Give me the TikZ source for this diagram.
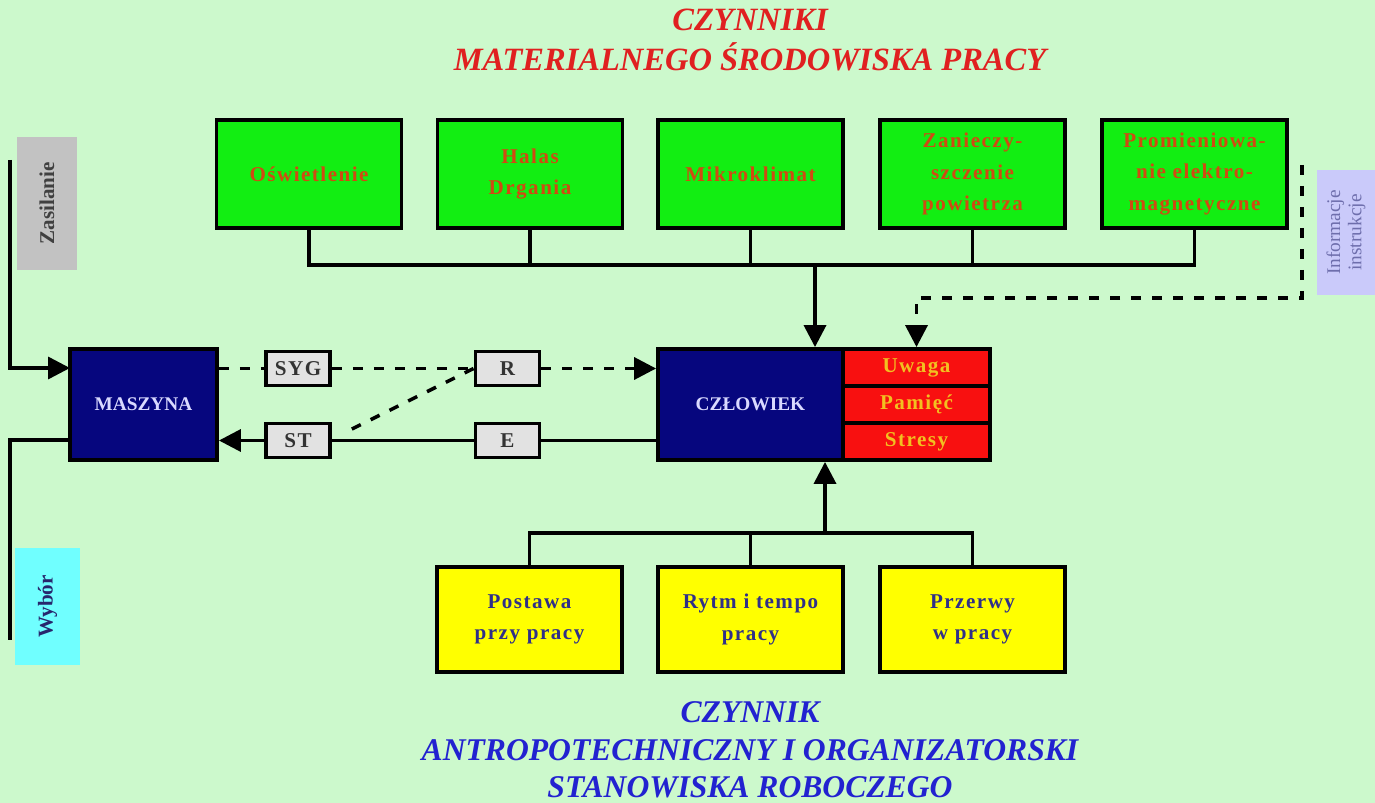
\documentclass[tikz,border=0pt]{standalone}
\usepackage{fontspec}
\setmainfont{Liberation Serif}
\newfontfamily\boxfont{Liberation Serif}[LetterSpace=7]
\usetikzlibrary{arrows.meta,calc}
\definecolor{bgmint}{HTML}{CCF9CC}
\definecolor{envgreen}{HTML}{12EE12}
\definecolor{envtext}{HTML}{D04A12}
\definecolor{orgyellow}{HTML}{FFFF00}
\definecolor{orgtext}{HTML}{303088}
\definecolor{coreblue}{HTML}{06067E}
\definecolor{corered}{HTML}{F81010}
\definecolor{coretext}{HTML}{F2C020}
\definecolor{sigfill}{HTML}{E2E2E2}
\definecolor{titlered}{HTML}{E02020}
\definecolor{titleblue}{HTML}{2222D0}
\definecolor{zasgrey}{HTML}{C2C2C2}
\definecolor{wybcyan}{HTML}{70FFFF}
\definecolor{inflav}{HTML}{CACAFA}
\tikzset{
  box/.style={draw=black, line width=2.2pt, align=center, inner sep=2pt,
    font=\boxfont\bfseries\fontsize{12}{18}\selectfont},
  envbox/.style={box, fill=envgreen, text=envtext, minimum width=3.7cm, minimum height=2.16cm},
  orgbox/.style={box, fill=orgyellow, text=orgtext, minimum width=3.7cm, minimum height=2.1cm},
  corebox/.style={box, fill=coreblue, text=white!85!blue, font=\bfseries\fontsize{11}{13}\selectfont},
  statebox/.style={box, fill=corered, text=coretext, minimum width=2.94cm, minimum height=0.74cm},
  sigbox/.style={box, fill=sigfill, text=black!80, minimum width=1.28cm, minimum height=0.68cm},
  sidetag/.style={rotate=90, align=center, inner sep=1pt},
  title/.style={align=center, font=\bfseries\itshape\fontsize{18.5}{22.5}\selectfont},
  wire/.style={line width=2pt},
  arr/.style={wire, -{Triangle[length=0.44cm,width=0.44cm]}},
  dashwire/.style={wire, dash pattern=on 0.2cm off 0.22cm},
}

\begin{document}
\begin{tikzpicture}[x=0.02cm, y=-0.02cm]
  \fill[bgmint] (0,0) rectangle (1375,803);
  \useasboundingbox (0,0) rectangle (1375,803);

  % titles
  \node[title, text=titlered] (ttop) at (750,40) {CZYNNIKI\\MATERIALNEGO ŚRODOWISKA PRACY};
  \node[title, text=titleblue, font=\bfseries\itshape\fontsize{18}{21.3}\selectfont] (tbot) at (750,750)
    {CZYNNIK\\ANTROPOTECHNICZNY I ORGANIZATORSKI\\STANOWISKA ROBOCZEGO};

  % environment factors
  \node[envbox] (g1) at (309,174) {Oświetlenie};
  \node[envbox] (g2) at (530,174) {Halas\\Drgania};
  \node[envbox] (g3) at (750.5,174) {Mikroklimat};
  \node[envbox] (g4) at (972.5,174) {Zanieczy-\\szczenie\\powietrza};
  \node[envbox] (g5) at (1194.5,174) {Promieniowa-\\nie elektro-\\magnetyczne};

  % man and machine
  \node[corebox, minimum width=2.94cm, minimum height=2.22cm] (masz) at (143.5,404.5) {MASZYNA};
  \node[corebox, minimum width=3.7cm, minimum height=2.22cm] (czl) at (750.5,404.5) {CZŁOWIEK};
  \node[statebox] (uwaga) at (916.5,367.5) {Uwaga};
  \node[statebox] (pamiec) at (916.5,404.5) {Pamięć};
  \node[statebox] (stres) at (916.5,441.5) {Stresy};

  \node[sigbox] (syg) at (298,368.5) {SYG};
  \node[sigbox] (r) at (507.5,368.5) {R};
  \node[sigbox] (st) at (298,440.5) {ST};
  \node[sigbox] (e) at (507.5,440.5) {E};

  % organisation factors
  \node[orgbox] (y1) at (529.5,619.5) {Postawa\\przy pracy};
  \node[orgbox] (y2) at (750.5,619.5) {Rytm i tempo\\pracy};
  \node[orgbox] (y3) at (972.5,619.5) {Przerwy\\w pracy};

  % side tags
  \node[sidetag, fill=zasgrey, text=black!75, minimum width=2.66cm, minimum height=1.2cm,
    font=\bfseries\fontsize{12}{14}\selectfont] (zas) at (47,203.5) {Zasilanie};
  \node[sidetag, fill=wybcyan, text=orgtext!80!black, minimum width=2.34cm, minimum height=1.3cm,
    font=\bfseries\fontsize{12}{14}\selectfont] (wyb) at (47.5,606.5) {Wybór};
  \node[sidetag, fill=inflav, text=orgtext!70, minimum width=2.5cm, minimum height=1.16cm,
    font=\fontsize{11}{12}\selectfont] (inf) at (1346,232.5) {Informacje\\instrukcje};

  % environment bus
  \coordinate (gbus) at (815,265);
  \draw[wire] (g1.south) |- (g5.south |- gbus) -- (g5.south);
  \foreach \g in {g2,g3,g4} \draw[wire] (\g.south) -- (\g.south |- gbus);
  \draw[arr] (gbus) -- (gbus |- czl.north);

  % organisation bus
  \coordinate (ybus) at (825,533);
  \draw[wire] (y1.north) |- (y3.north |- ybus) -- (y3.north);
  \draw[wire] (y2.north) -- (y2.north |- ybus);
  \draw[arr] (ybus) -- (ybus |- czl.south);

  % signals
  \draw[dashwire] (masz.east |- syg) -- (syg.west);
  \draw[dashwire] (syg.east) -- (r.west);
  \draw[dashwire, -{Triangle[length=0.44cm,width=0.44cm]}] (r.east) -- (czl.west |- r);
  \coordinate (sttip) at (350,430);
  \draw[dashwire] (r.west) -- (sttip);
  \draw[wire] (czl.west |- e) -- (e.east);
  \draw[wire] (e.west) -- (st.east);
  \draw[arr] (st.west) -- (masz.east |- st);

  % supply and selection
  \coordinate (zastop) at (10,160);
  \coordinate (zasin) at (70,368);
  \draw[arr] (zastop) |- (zasin);
  \coordinate (wybend) at (10,640);
  \coordinate (wybout) at (70,440);
  \draw[wire] (wybout) -| (wybend);

  % information
  \coordinate (inftop) at (1302,165);
  \draw[dashwire, -{Triangle[length=0.44cm,width=0.44cm]}] (inftop) |- (uwaga.north |- 0,298) -- (uwaga.north);
\end{tikzpicture}
\end{document}
